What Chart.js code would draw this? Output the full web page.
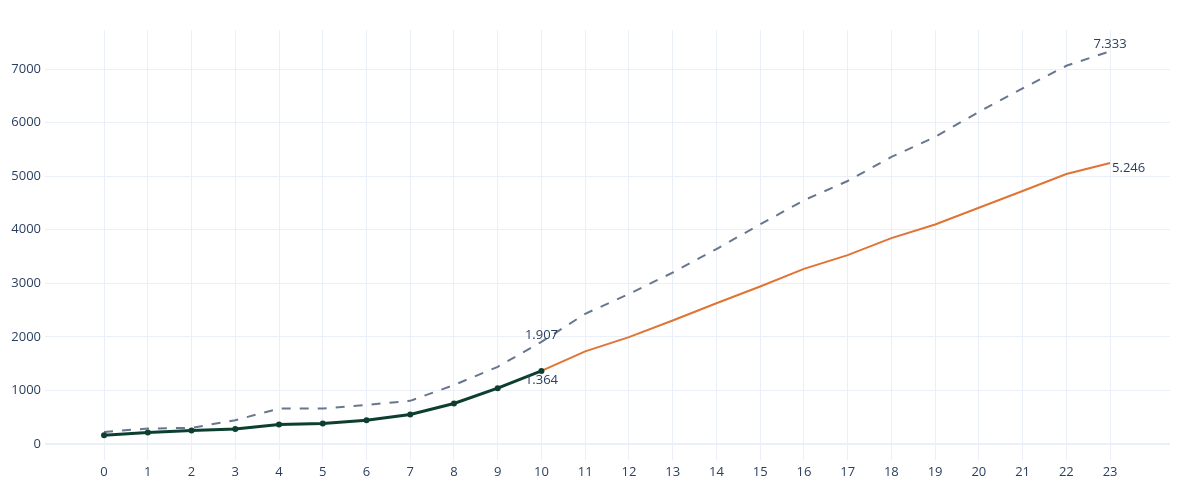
<!DOCTYPE html>
<html>
<head>
<meta charset="utf-8">
<script src="https://cdn.jsdelivr.net/npm/chart.js@4"></script>
<style>
  body { margin: 0; background: #fff; }
  #wrap { width: 1200px; height: 500px; }
</style>
</head>
<body>
<div id="wrap"><canvas id="growthChart" width="1200" height="500"></canvas></div>
<script>
// chart data
const xTicks = [0, 1, 2, 3, 4, 5, 6, 7, 8, 9, 10, 11, 12, 13, 14, 15, 16, 17, 18, 19, 20, 21, 22, 23];
const yTicks = [0, 1000, 2000, 3000, 4000, 5000, 6000, 7000];

const actualX = [0, 1, 2, 3, 4, 5, 6, 7, 8, 9, 10];
const actualValues = [163, 212, 250, 281, 362, 381, 443, 549, 755, 1041, 1364];

const forecastX = [10, 11, 12, 13, 14, 15, 16, 17, 18, 19, 20, 21, 22, 23];
const forecastValues = [1364, 1728, 1995, 2305, 2627, 2940, 3269, 3525, 3843, 4099, 4411, 4723, 5041, 5246];

const upperX = xTicks;
const upperValues = [224, 287, 300, 443, 661, 661, 730, 805, 1100, 1440, 1907, 2430, 2800, 3200, 3640, 4100, 4550, 4910, 5359, 5733, 6201, 6638, 7062, 7333];

// which points get a value label: [dataset index, point index, position]
const labelledPoints = [
    [2, 10, 'top'],
    [0, 10, 'bottom'],
    [2, 23, 'top'],
    [1, 13, 'right']
];

function toPoints(xs, ys) {
    return xs.map(function(x, i) { return { x: x, y: ys[i] }; });
}

function formatValue(v) {
    return String(v).replace(/\B(?=(\d{3})+(?!\d))/g, '.');
}

const textColor = '#2a3f5f';
const gridColor = '#ebf0f8';

// Draw the little value labels next to chosen points
const pointLabels = {
    id: 'pointLabels',
    afterDatasetsDraw(chart) {
        const ctx = chart.ctx;
        ctx.save();
        ctx.font = '13px "Open Sans", sans-serif';
        ctx.fillStyle = textColor;
        labelledPoints.forEach(function(item) {
            const meta = chart.getDatasetMeta(item[0]);
            const el = meta.data[item[1]];
            const value = chart.data.datasets[item[0]].data[item[1]].y;
            const text = formatValue(value);
            if (item[2] === 'top') {
                ctx.textAlign = 'center';
                ctx.textBaseline = 'bottom';
                ctx.fillText(text, el.x, el.y);
            } else if (item[2] === 'bottom') {
                ctx.textAlign = 'center';
                ctx.textBaseline = 'top';
                ctx.fillText(text, el.x, el.y + 3);
            } else {
                ctx.textAlign = 'left';
                ctx.textBaseline = 'middle';
                ctx.fillText(text, el.x + 2, el.y + 5);
            }
        });
        ctx.restore();
    }
};

function loadGrowthChart() {
    const ctx = document.getElementById('growthChart').getContext('2d');
    new Chart(ctx, {
        type: 'line',
        data: {
            datasets: [{
                label: 'Actual',
                data: toPoints(actualX, actualValues),
                borderColor: '#0d3f31',
                backgroundColor: '#0d3f31',
                borderWidth: 3,
                pointRadius: 3,
                pointBorderWidth: 0,
                pointHoverRadius: 3,
                tension: 0
            }, {
                label: 'Forecast',
                data: toPoints(forecastX, forecastValues),
                borderColor: '#e07434',
                borderWidth: 2,
                pointRadius: 0,
                tension: 0
            }, {
                label: 'Upper',
                data: toPoints(upperX, upperValues),
                borderColor: '#68768e',
                borderWidth: 2,
                borderDash: [9, 9],
                pointRadius: 0,
                tension: 0
            }]
        },
        options: {
            responsive: false,
            animation: false,
            layout: {
                padding: { top: 30, right: 30, left: 0, bottom: 0 }
            },
            plugins: {
                legend: { display: false },
                tooltip: { enabled: false }
            },
            scales: {
                x: {
                    type: 'linear',
                    min: -1.35,
                    max: 24.37,
                    afterBuildTicks: function(axis) {
                        axis.ticks = xTicks.map(function(v) { return { value: v }; });
                    },
                    afterFit: function(axis) { axis.height = 40; },
                    border: { display: false },
                    grid: { color: gridColor, drawTicks: false },
                    ticks: {
                        color: textColor,
                        padding: 4,
                        autoSkip: false,
                        maxRotation: 0,
                        font: { family: '"Open Sans", sans-serif', size: 13 }
                    }
                },
                y: {
                    min: -300,
                    max: 7730,
                    afterBuildTicks: function(axis) {
                        axis.ticks = yTicks.map(function(v) { return { value: v }; });
                    },
                    afterFit: function(axis) { axis.width = 45; },
                    border: { display: false },
                    grid: {
                        drawTicks: false,
                        color: gridColor,
                        lineWidth: function(c) { return c.tick && c.tick.value === 0 ? 2 : 1; }
                    },
                    ticks: {
                        color: textColor,
                        padding: 4,
                        callback: function(value) { return String(value); },
                        font: { family: '"Open Sans", sans-serif', size: 13 }
                    }
                }
            }
        },
        plugins: [pointLabels]
    });
}

window.onload = function() {
    if (document.getElementById('growthChart')) {
        loadGrowthChart();
    }
};
</script>
</body>
</html>
